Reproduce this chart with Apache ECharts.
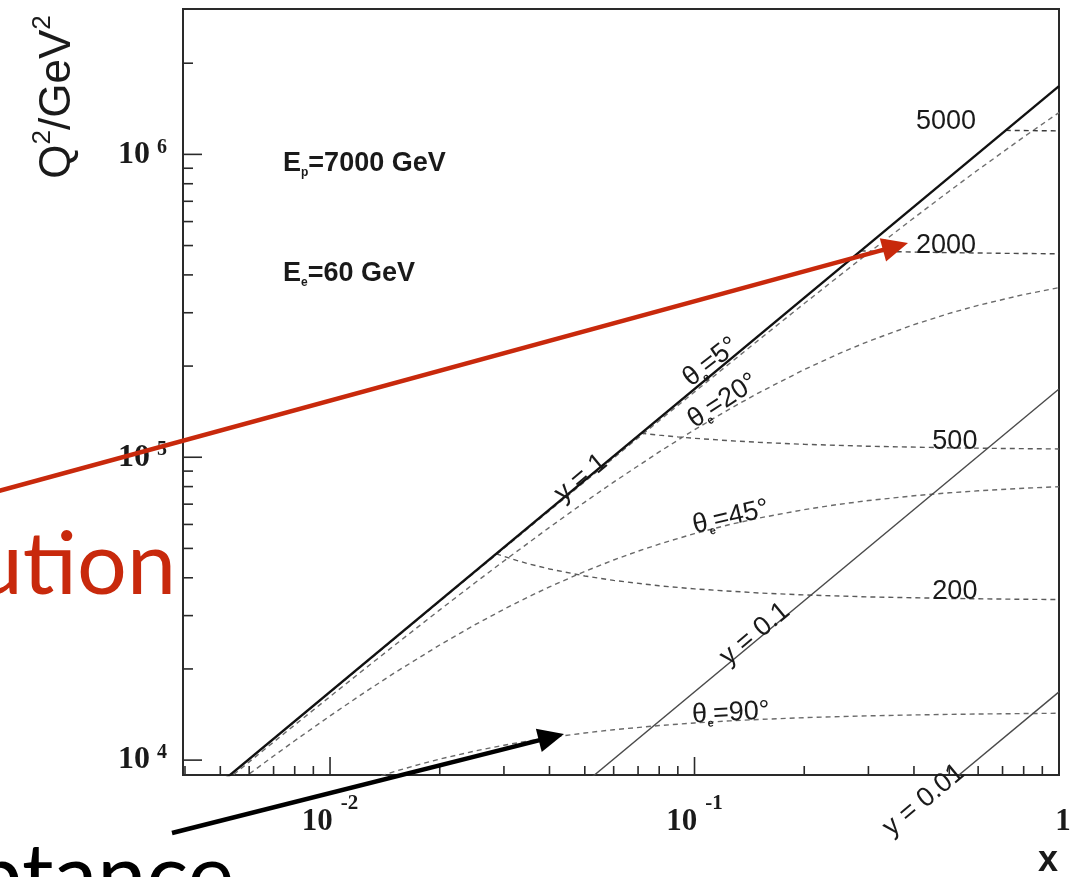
<!DOCTYPE html>
<html>
<head>
<meta charset="utf-8">
<title>Kinematic plane, Ep = 7000 GeV, Ee = 60 GeV</title>
<script src="https://cdn.jsdelivr.net/npm/echarts@6/dist/echarts.min.js"></script>
<style>
  html, body { margin: 0; padding: 0; background: #ffffff; }
  #chart { width: 1073px; height: 877px; }
</style>
</head>
<body>
<div id="chart"></div>
<script>
// Beam energies (GeV)
const protonEnergy = 7000;
const electronEnergy = 60;

// Axis ranges: Bjorken x and Q^2 in GeV^2
const xRange = [0.00395, 1];
const q2Range = [8930, 3.02e6];

// Tick values on the logarithmic axes
const xMajorTicks = [0.01, 0.1, 1];
const xMinorTicks = [0.004, 0.005, 0.006, 0.007, 0.008, 0.009,
                     0.02, 0.03, 0.04, 0.05, 0.06, 0.07, 0.08, 0.09,
                     0.2, 0.3, 0.4, 0.5, 0.6, 0.7, 0.8, 0.9];
const q2MajorTicks = [1e4, 1e5, 1e6];
const q2MinorTicks = [2e4, 3e4, 4e4, 5e4, 6e4, 7e4, 8e4, 9e4,
                      2e5, 3e5, 4e5, 5e5, 6e5, 7e5, 8e5, 9e5, 2e6];

// Lines of constant inelasticity y
const inelasticityLevels = ['1', '0.1', '0.01'];
const lineY1 = [[0.00395, 6636], [1, 1680000]];
const lineY01 = [[0.05, 8400], [1, 168000]];
const lineY001 = [[0.5, 8400], [1, 16800]];

// Lines of constant electron scattering angle (degrees)
const thetaLevels = [5, 20, 45, 90];
const theta5 = [[0.004, 6714], [0.005, 8390], [0.006, 10067], [0.007, 11742], [0.008, 13416],
  [0.01, 16763], [0.0125, 20942], [0.015, 25116], [0.02, 33451], [0.025, 41767], [0.03, 50067],
  [0.04, 66609], [0.05, 83077], [0.06, 99473], [0.08, 132050], [0.1, 164340], [0.125, 204320],
  [0.15, 243860], [0.2, 321690], [0.25, 397870], [0.3, 472480], [0.4, 617090], [0.5, 755920],
  [0.6, 889330], [0.8, 1141000], [1, 1374300]];
const theta20 = [[0.004, 6624], [0.005, 8250], [0.006, 9865], [0.007, 11469], [0.008, 13061],
  [0.01, 16212], [0.0125, 20089], [0.015, 23899], [0.02, 31327], [0.025, 38507], [0.03, 45454],
  [0.04, 58685], [0.05, 71104], [0.06, 82784], [0.08, 104170], [0.1, 123280], [0.125, 144490],
  [0.15, 163200], [0.2, 194730], [0.25, 220260], [0.3, 241360], [0.4, 274180], [0.5, 298540],
  [0.6, 317340], [0.8, 344450], [1, 363060]];
const theta45 = [[0.004, 6222], [0.005, 7636], [0.006, 8999], [0.007, 10315], [0.008, 11585],
  [0.01, 13998], [0.0125, 16797], [0.015, 19381], [0.02, 23994], [0.025, 27992], [0.03, 31490],
  [0.035, 34576], [0.04, 37319], [0.05, 41982], [0.06, 45797], [0.07, 48976], [0.08, 51665],
  [0.1, 55969], [0.125, 59964], [0.15, 62960], [0.2, 67155], [0.25, 69951], [0.3, 71948],
  [0.4, 74611], [0.5, 76305], [0.6, 77478], [0.8, 78996], [1, 79936]];
const theta90 = [[0.01, 7754], [0.0125, 8542], [0.015, 9164], [0.0175, 9666], [0.02, 10080],
  [0.025, 10723], [0.03, 11200], [0.035, 11567], [0.04, 11859], [0.05, 12293], [0.06, 12600],
  [0.08, 13006], [0.1, 13263], [0.125, 13476], [0.15, 13622], [0.2, 13808], [0.25, 13923],
  [0.3, 14000], [0.4, 14098], [0.5, 14157], [0.6, 14197], [0.8, 14247], [1, 14278]];

// Lines of constant scattered electron energy (GeV)
const energyLevels = [200, 500, 2000, 5000];
const ePrime200 = [[0.02857, 48000], [0.03, 47040], [0.0325, 45636], [0.035, 44497], [0.04, 42764],
  [0.05, 40552], [0.06, 39200], [0.08, 37632], [0.1, 36750], [0.15, 35636], [0.2, 35104],
  [0.3, 34588], [0.5, 34186], [0.7, 34016], [1, 33890]];
const ePrime500 = [[0.07143, 120000], [0.08, 118272], [0.09, 116716], [0.1, 115500], [0.125, 113374],
  [0.15, 112000], [0.2, 110328], [0.3, 108706], [0.5, 107441], [0.7, 106908], [1, 106513]];
const ePrime2000 = [[0.2857, 480000], [0.3, 479295], [0.4, 475795], [0.5, 473720], [0.7, 471369],
  [1, 469625]];
const ePrime5000 = [[0.7143, 1200000], [0.8, 1198430], [1, 1195850]];

const serif = "'Liberation Serif', 'DejaVu Serif', serif";
const sans = "'Liberation Sans', Arial, sans-serif";
const ink = '#1a1a1a';
const frame = '#2a2a2a';

function solid(color, width) {
  return { color: color, width: width, type: 'solid' };
}
function dashed(color) {
  return { color: color, width: 1.4, type: [5, 4] };
}
function curve(name, data, lineStyle, z) {
  return {
    name: name, type: 'line', data: data, symbol: 'none', showSymbol: false,
    clip: true, silent: true, z: z || 2, lineStyle: lineStyle, emphasis: { disabled: true }
  };
}

function decadeLabelY(v) {
  const e = Math.round(Math.log10(v));
  return '{b|10}{s|' + e + '}';
}
function decadeLabelX(v) {
  const e = Math.round(Math.log10(v));
  return e === 0 ? '{one|1}' : '{b|10}{s|' + e + '}';
}

function thetaText(deg) {
  return '{t|\u03b8}{sub|e}{t|=' + deg + '\u00b0}';
}

// In-plot annotations anchored in (x, Q^2) coordinates
const annotations = [
  { value: [0.49, 1.28e6], label: { formatter: '{t|' + energyLevels[3] + '}' } },
  { value: [0.49, 5.01e5], label: { formatter: '{t|' + energyLevels[2] + '}' } },
  { value: [0.518, 1.13e5], label: { formatter: '{t|' + energyLevels[1] + '}' } },
  { value: [0.518, 3.61e4], label: { formatter: '{t|' + energyLevels[0] + '}' } },
  { value: [0.0488, 85300], label: { formatter: '{t|y = ' + inelasticityLevels[0] + '}', rotate: 39.7 } },
  { value: [0.1464, 26060], label: { formatter: '{t|y = ' + inelasticityLevels[1] + '}', rotate: 39.7 } },
  { value: [0.4257, 7380], label: { formatter: '{t|y = ' + inelasticityLevels[2] + '}', rotate: 39.7 } },
  { value: [0.1109, 206000], label: { formatter: thetaText(thetaLevels[0]), rotate: 38 } },
  { value: [0.1197, 153200], label: { formatter: thetaText(thetaLevels[1]), rotate: 33 } },
  { value: [0.1258, 63430], label: { formatter: thetaText(thetaLevels[2]), rotate: 13 } },
  { value: [0.1258, 14300], label: { formatter: thetaText(thetaLevels[3]), rotate: 3 } },
  { value: [0.00743, 9.35e5], label: { formatter: '{eb|E}{es|p}{eb|=' + protonEnergy + ' GeV}', align: 'left' } },
  { value: [0.00743, 4.05e5], label: { formatter: '{eb|E}{es|e}{eb|=' + electronEnergy + ' GeV}', align: 'left' } }
];

const option = {
  animation: false,
  backgroundColor: '#ffffff',
  grid: {
    left: 183, right: 14, top: 9, bottom: 102,
    show: true, borderColor: frame, borderWidth: 2, backgroundColor: 'transparent',
    containLabel: false, outerBoundsMode: 'none'
  },
  xAxis: {
    type: 'log', logBase: 10, min: xRange[0], max: xRange[1],
    axisLine: { show: true, lineStyle: { color: frame, width: 2 } },
    axisTick: { show: false }, minorTick: { show: false }, splitLine: { show: false },
    axisLabel: {
      show: true, showMinLabel: false, showMaxLabel: true, margin: 18,
      formatter: decadeLabelX, color: ink,
      rich: {
        b: { fontFamily: serif, fontWeight: 'bold', fontSize: 31, lineHeight: 30, verticalAlign: 'bottom', color: ink },
        s: { fontFamily: serif, fontWeight: 'bold', fontSize: 21, lineHeight: 44, verticalAlign: 'top', padding: [0, 0, 0, 8], color: ink },
        one: { fontFamily: serif, fontWeight: 'bold', fontSize: 31, lineHeight: 44, verticalAlign: 'bottom', padding: [0, 0, 0, 8], color: ink }
      }
    }
  },
  yAxis: {
    type: 'log', logBase: 10, min: q2Range[0], max: q2Range[1],
    axisLine: { show: true, lineStyle: { color: frame, width: 2 } },
    axisTick: { show: false }, minorTick: { show: false }, splitLine: { show: false },
    axisLabel: {
      show: true, showMinLabel: false, showMaxLabel: false, margin: 16,
      formatter: decadeLabelY, color: ink,
      rich: {
        b: { fontFamily: serif, fontWeight: 'bold', fontSize: 32, lineHeight: 34, color: ink },
        s: { fontFamily: serif, fontWeight: 'bold', fontSize: 20, lineHeight: 19, verticalAlign: 'top', padding: [0, 0, 0, 7], color: ink }
      }
    }
  },
  series: [
    curve('theta5', theta5, dashed('#707070'), 2),
    curve('y=1', lineY1, solid('#111111', 2.4), 3),
    curve('theta20', theta20, dashed('#6a6a6a'), 2),
    curve('theta45', theta45, dashed('#6a6a6a'), 2),
    curve('theta90', theta90, dashed('#6a6a6a'), 2),
    curve('E200', ePrime200, dashed('#5a5a5a'), 2),
    curve('E500', ePrime500, dashed('#5a5a5a'), 2),
    curve('E2000', ePrime2000, dashed('#4a4a4a'), 2),
    curve('E5000', ePrime5000, dashed('#3a3a3a'), 2),
    curve('y=0.1', lineY01, solid('#4a4a4a', 1.4), 3),
    curve('y=0.01', lineY001, solid('#4a4a4a', 1.4), 3),
    {
      name: 'annotations', type: 'scatter', data: annotations, symbolSize: 1,
      itemStyle: { color: 'rgba(0,0,0,0)', opacity: 1 }, clip: false, silent: true, z: 6,
      emphasis: { disabled: true },
      label: {
        show: true, position: 'inside', align: 'center', verticalAlign: 'middle', color: ink, opacity: 1,
        rich: {
          t: { fontFamily: sans, fontSize: 27, lineHeight: 30, color: ink },
          sub: { fontFamily: sans, fontSize: 11, fontWeight: 'bold', lineHeight: 11, verticalAlign: 'bottom', color: ink },
          eb: { fontFamily: sans, fontSize: 27, fontWeight: 'bold', lineHeight: 30, color: ink },
          es: { fontFamily: sans, fontSize: 12, fontWeight: 'bold', lineHeight: 12, verticalAlign: 'bottom', color: ink }
        }
      }
    }
  ]
};

const chart = echarts.init(document.getElementById('chart'), null, { renderer: 'canvas' });
chart.setOption(option);

function px(v) { return chart.convertToPixel({ xAxisIndex: 0 }, v); }
function py(v) { return chart.convertToPixel({ yAxisIndex: 0 }, v); }

const left = px(xRange[0]);
const bottom = py(q2Range[0]);
const elements = [];
const tickStyle = { stroke: frame, lineWidth: 1.6 };

function tick(x1, y1, x2, y2) {
  elements.push({ type: 'line', silent: true, z: 50, shape: { x1: x1, y1: y1, x2: x2, y2: y2 }, style: tickStyle });
}
xMajorTicks.forEach(function (v) { const p = px(v); tick(p, bottom, p, bottom - 18); });
xMinorTicks.forEach(function (v) { const p = px(v); tick(p, bottom, p, bottom - 9); });
q2MajorTicks.forEach(function (v) { const p = py(v); tick(left, p, left + 19, p); });
q2MinorTicks.forEach(function (v) { const p = py(v); tick(left, p, left + 10, p); });

// Arrow overlay: shaft plus triangular head
function arrow(x1, y1, x2, y2, color, width, headLen, headHalf) {
  const dx = x2 - x1, dy = y2 - y1;
  const len = Math.sqrt(dx * dx + dy * dy);
  const ux = dx / len, uy = dy / len;
  const bx = x2 - ux * headLen, by = y2 - uy * headLen;
  elements.push({
    type: 'line', silent: true, z: 80,
    shape: { x1: x1, y1: y1, x2: bx + ux * 2, y2: by + uy * 2 },
    style: { stroke: color, lineWidth: width }
  });
  elements.push({
    type: 'polygon', silent: true, z: 80,
    shape: { points: [[x2, y2], [bx - uy * headHalf, by + ux * headHalf], [bx + uy * headHalf, by - ux * headHalf]] },
    style: { fill: color }
  });
}
arrow(-5, 492, 908, 243, '#c8290c', 4.5, 26, 12);
arrow(172, 833, 564, 734, '#000000', 4.5, 26, 12);

// Axis titles
elements.push({
  type: 'text', silent: true, z: 60, x: 57.5, y: 97, rotation: Math.PI / 2,
  style: {
    text: '{q|Q}{s|2}{q|/GeV}{s|2}', align: 'center', verticalAlign: 'middle', fill: ink,
    rich: {
      q: { fontFamily: sans, fontSize: 44, lineHeight: 56, fill: ink },
      s: { fontFamily: sans, fontSize: 26, lineHeight: 26, verticalAlign: 'top', fill: ink }
    }
  }
});
elements.push({
  type: 'text', silent: true, z: 60, x: 1048, y: 861,
  style: { text: 'x', font: "bold 36px " + sans, align: 'center', verticalAlign: 'middle', fill: ink }
});

// Slide captions running off the left edge
elements.push({
  type: 'text', silent: true, z: 70, x: 176, y: 566,
  style: { text: 'ution', font: "88px Lato, 'Open Sans', sans-serif", align: 'right', verticalAlign: 'middle', fill: '#c8290c' }
});
elements.push({
  type: 'text', silent: true, z: 70, x: 234, y: 878,
  style: { text: 'ptance', font: "88px Lato, 'Open Sans', sans-serif", align: 'right', verticalAlign: 'middle', fill: '#000000' }
});

chart.setOption({ graphic: { elements: elements } });
</script>
</body>
</html>
